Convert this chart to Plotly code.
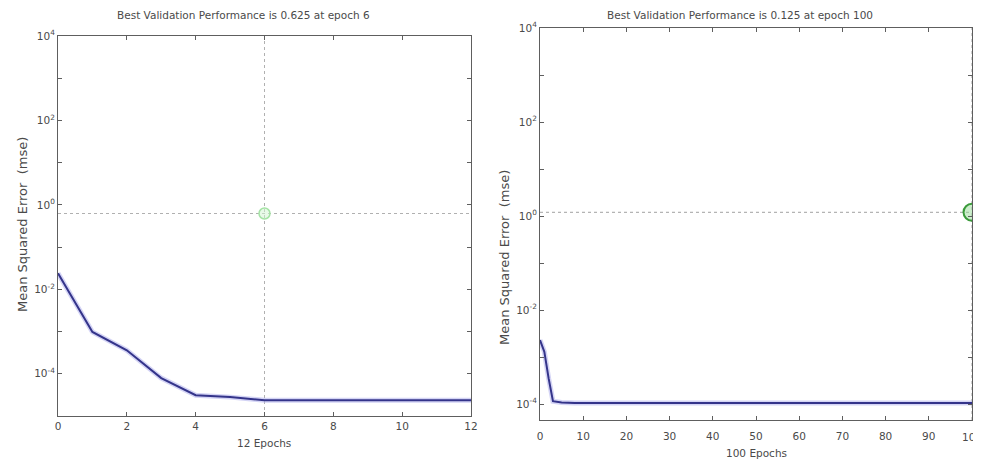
import plotly.graph_objects as go

# page body has an 8px margin; figure sized to fill the rest of the 981x461 window
OFF = 8
W, H = 981 - OFF, 461 - OFF

# ---- data ----
left_epochs = [0, 1, 2, 3, 4, 5, 6, 7, 8, 9, 10, 11, 12]
left_mse = [0.024, 9.8e-4, 3.6e-4, 7.9e-5, 3.1e-5, 2.8e-5, 2.35e-5,
            2.35e-5, 2.35e-5, 2.35e-5, 2.35e-5, 2.35e-5, 2.35e-5]
left_best_epoch = 6
left_best_perf = 0.625
left_title = "Best Validation Performance is 0.625 at epoch 6"
left_xlabel = "12 Epochs"
left_xticks = [0, 2, 4, 6, 8, 10, 12]

right_epochs = [0, 1, 2, 3, 5, 8, 20, 40, 60, 80, 100]
right_mse = [2.3e-3, 1.3e-3, 3.5e-4, 1.15e-4, 1.08e-4, 1.05e-4,
             1.05e-4, 1.05e-4, 1.05e-4, 1.05e-4, 1.05e-4]
right_best_epoch = 100
right_best_perf = 1.2
right_title = "Best Validation Performance is 0.125 at epoch 100"
right_xlabel = "100 Epochs"
right_xticks = [0, 10, 20, 30, 40, 50, 60, 70, 80, 90, 100]

ytick_decades = [-5, -4, -3, -2, -1, 0, 1, 2, 3, 4]
ylabel = "Mean Squared Error  (mse)"

FONT = "DejaVu Sans, Liberation Sans, sans-serif"
TXT = "#4a4a4a"
AX = "#5e5e5e"


def px(x):
    return (x - OFF) / W


def py(y):
    return 1 - (y - OFF) / H


def ytickvals():
    return [10 ** d for d in ytick_decades]


def yticktext():
    return ["10<sup>%d</sup>" % d if d % 2 == 0 else "" for d in ytick_decades]


fig = go.Figure()

# left panel
fig.add_trace(go.Scatter(x=[left_best_epoch, left_best_epoch], y=[1e-5, 1e4], mode="lines",
                         line=dict(color="#b0b0b0", width=1, dash="dot"),
                         xaxis="x", yaxis="y", showlegend=False))
fig.add_trace(go.Scatter(x=[0, 12], y=[left_best_perf, left_best_perf], mode="lines",
                         line=dict(color="#b0b0b0", width=1, dash="dot"),
                         xaxis="x", yaxis="y", showlegend=False))
fig.add_trace(go.Scatter(x=left_epochs, y=left_mse, mode="lines",
                         line=dict(color="#b8b8f0", width=5),
                         xaxis="x", yaxis="y", showlegend=False, opacity=0.6))
fig.add_trace(go.Scatter(x=left_epochs, y=left_mse, mode="lines",
                         line=dict(color="#34348a", width=2),
                         xaxis="x", yaxis="y", showlegend=False))
fig.add_trace(go.Scatter(x=[left_best_epoch], y=[left_best_perf], mode="markers",
                         marker=dict(symbol="circle", size=11, color="rgba(210,245,210,0.5)",
                                     line=dict(color="#a5e3a5", width=1.5)),
                         xaxis="x", yaxis="y", showlegend=False))

# right panel
fig.add_trace(go.Scatter(x=[0, 100], y=[right_best_perf, right_best_perf], mode="lines",
                         line=dict(color="#a0a0a0", width=1, dash="dot"),
                         xaxis="x2", yaxis="y2", showlegend=False))
fig.add_trace(go.Scatter(x=[right_best_epoch, right_best_epoch], y=[10 ** -4.34, 1e4], mode="lines",
                         line=dict(color="#a0a0a0", width=1, dash="dot"),
                         xaxis="x2", yaxis="y2", showlegend=False))
fig.add_trace(go.Scatter(x=right_epochs, y=right_mse, mode="lines",
                         line=dict(color="#b8b8f0", width=5),
                         xaxis="x2", yaxis="y2", showlegend=False, opacity=0.6))
fig.add_trace(go.Scatter(x=right_epochs, y=right_mse, mode="lines",
                         line=dict(color="#34348a", width=2),
                         xaxis="x2", yaxis="y2", showlegend=False))
fig.add_trace(go.Scatter(x=[right_best_epoch], y=[right_best_perf], mode="markers",
                         marker=dict(symbol="circle", size=17, color="rgba(150,220,150,0.5)",
                                     line=dict(color="#3a9a3a", width=2)),
                         xaxis="x2", yaxis="y2", showlegend=False, cliponaxis=False))

common_x = dict(showline=True, linecolor=AX, linewidth=1, mirror="ticks", ticks="inside",
                ticklen=4, tickcolor=AX, showgrid=False, zeroline=False, automargin=False,
                tickfont=dict(family=FONT, size=10.5, color=TXT))
common_y = dict(type="log", showline=True, linecolor=AX, linewidth=1, mirror="ticks",
                ticks="inside", ticklen=4, tickcolor=AX, showgrid=False, zeroline=False,
                automargin=False, tickmode="array", tickvals=ytickvals(), ticktext=yticktext(),
                tickfont=dict(family=FONT, size=10.5, color=TXT))

ann = dict(xref="paper", yref="paper", showarrow=False, xanchor="center", yanchor="middle")

# the last right-hand tick label sits at the window edge; plotly hides it, so draw it
last_tick = right_xticks[-1]

fig.update_layout(
    width=W, height=H,
    margin=dict(l=0, r=0, t=0, b=0, autoexpand=False),
    paper_bgcolor="white", plot_bgcolor="white",
    xaxis=dict(domain=[px(58), px(471)], range=[0, 12], tickmode="array",
               tickvals=left_xticks, anchor="y", **common_x),
    yaxis=dict(domain=[py(416), py(36)], range=[-5, 4], anchor="x", **common_y),
    xaxis2=dict(domain=[px(540), px(972)], range=[0, 100], tickmode="array",
                tickvals=right_xticks, anchor="y2", ticklabelstandoff=6, **common_x),
    yaxis2=dict(domain=[py(420), py(28)], range=[-4.34, 4], anchor="x2", **common_y),
    annotations=[
        dict(text=left_title, x=px(243), y=py(15),
             font=dict(family=FONT, size=10.5, color=TXT), **ann),
        dict(text=right_title, x=px(740), y=py(15),
             font=dict(family=FONT, size=10.5, color=TXT), **ann),
        dict(text=left_xlabel, x=px(264), y=py(443),
             font=dict(family=FONT, size=10.5, color=TXT), **ann),
        dict(text=right_xlabel, x=px(756), y=py(453),
             font=dict(family=FONT, size=10.5, color=TXT), **ann),
        dict(text=ylabel, x=px(22), y=py(225), textangle=-90,
             font=dict(family=FONT, size=13, color=TXT), **ann),
        dict(text=ylabel, x=px(504), y=py(258), textangle=-90,
             font=dict(family=FONT, size=13, color=TXT), **ann),
        dict(text=str(last_tick), x=last_tick, xref="x2", y=py(437), yref="paper",
             showarrow=False, xanchor="center", yanchor="middle",
             font=dict(family=FONT, size=10.5, color=TXT)),
    ],
)

fig.write_html("out.html")
